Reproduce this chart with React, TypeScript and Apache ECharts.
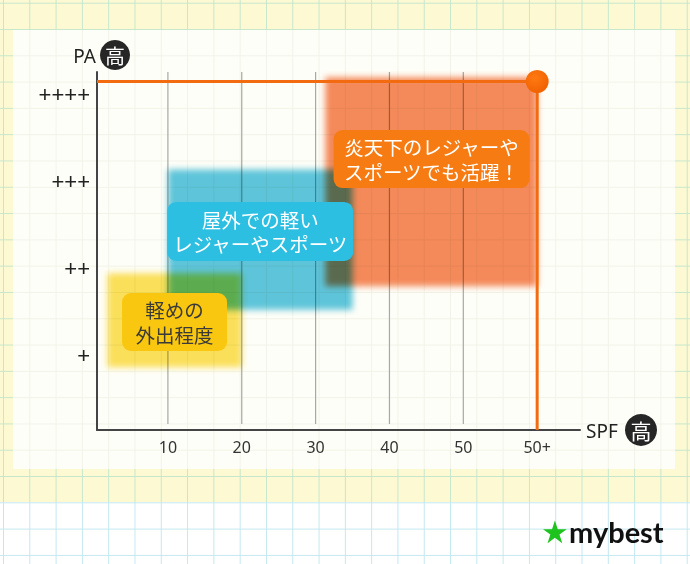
import React, { useEffect, useRef } from "react";
import * as echarts from "echarts";

// ---- data ----
const yLevels = [1, 2, 3, 4];
const yLabels = ["+", "++", "+++", "++++"];
const xTicks = [10, 20, 30, 40, 50, 60];
const xLabels = ["10", "20", "30", "40", "50", "50+"];
const gridX = [10, 20, 30, 40, 50];
const zoneSpf = [
  [1.8, 20],
  [10, 35],
  [31.3, 60],
];
const zonePa = [
  [0.87, 1.95],
  [1.53, 3.14],
  [1.8, 4.2],
];
const labelLines = [
  ["軽めの", "外出程度"],
  ["屋外での軽い", "レジャーやスポーツ"],
  ["炎天下のレジャーや", "スポーツでも活躍！"],
];
const labelAt = [
  [10.9, 1.39],
  [22.5, 2.43],
  [45.7, 3.26],
];
const peak = [60, 4.15];
const xRange = [0.4, 65.8];
const yRange = [0.15, 4.26];

// ---- styles ----
const zoneColors = ["#fbe05c", "#5ec5e0", "#f58a5c"];
const labelBg = ["#f9c70f", "#2dbfe2", "#f57b12"];
const labelFg = ["#3a3a3a", "#ffffff", "#ffffff"];
const labelBox = [
  [105, 58],
  [186, 59],
  [196, 58],
];
const ORANGE = "#f26b10";
const JP = "'Noto Sans CJK JP', 'Noto Sans', sans-serif";
const LAT = "'Noto Sans', 'Liberation Sans', sans-serif";

const hexToRgb = (h: string) => {
  const n = parseInt(h.slice(1), 16);
  return `rgb(${(n >> 16) & 255}, ${(n >> 8) & 255}, ${n & 255})`;
};
const blendCss =
  zoneColors
    .flatMap((c) => [`#chartbox path[fill="${c}"]`, `#chartbox path[fill="${hexToRgb(c)}"]`])
    .join(",") + "{mix-blend-mode:multiply;filter:blur(3px);}";

const gridBg = (bg: string, line: string, ox: number, oy: number) => ({
  backgroundColor: bg,
  backgroundImage: `linear-gradient(to right, ${line} 1.3px, transparent 1.3px), linear-gradient(to bottom, ${line} 1.3px, transparent 1.3px)`,
  backgroundSize: "26.3px 26.3px",
  backgroundPosition: `${ox}px ${oy}px`,
});

export default function App() {
  const ref = useRef<HTMLDivElement>(null);
  useEffect(() => {
    const chart = echarts.init(ref.current!, null, { renderer: "svg", width: 690, height: 564 });
    const option: any = {
      animation: false,
      backgroundColor: "transparent",
      grid: { left: 97, right: 110, top: 72, bottom: 134, containLabel: false },
      xAxis: {
        type: "value",
        min: xRange[0],
        max: xRange[1],
        axisLine: { show: true, lineStyle: { color: "#444", width: 2 } },
        axisTick: { show: false },
        splitLine: { show: false },
        axisLabel: {
          customValues: xTicks,
          formatter: (v: number) => {
            const i = xTicks.indexOf(Math.round(v));
            return i >= 0 ? xLabels[i] : "";
          },
          color: "#333",
          fontSize: 16,
          fontFamily: LAT,
          margin: 9,
        },
      },
      yAxis: {
        type: "value",
        min: yRange[0],
        max: yRange[1],
        axisLine: { show: true, lineStyle: { color: "#444", width: 2 } },
        axisTick: { show: false },
        splitLine: { show: false },
        axisLabel: {
          customValues: yLevels,
          formatter: (v: number) => {
            const i = yLevels.indexOf(Math.round(v));
            return i >= 0 ? yLabels[i] : "";
          },
          color: "#222",
          fontSize: 22,
          fontFamily: "'Liberation Sans', sans-serif",
          margin: 7,
        },
      },
      series: [
        {
          type: "custom",
          z: 1,
          silent: true,
          data: gridX.map((v) => [v, yRange[0]]),
          renderItem: (params: any, api: any) => {
            const cs = params.coordSys;
            const p = api.coord([api.value(0), api.value(1)]);
            return {
              type: "line",
              shape: { x1: p[0], y1: cs.y, x2: p[0], y2: cs.y + cs.height - 6 },
              style: { stroke: "#a8a8a4", lineWidth: 1.2 },
            };
          },
        },
        {
          type: "custom",
          z: 2,
          silent: true,
          data: zoneSpf.map((s, i) => [s[0], s[1], zonePa[i][0], zonePa[i][1]]),
          renderItem: (params: any, api: any) => {
            const a = api.coord([api.value(0), api.value(3)]);
            const b = api.coord([api.value(1), api.value(2)]);
            return {
              type: "rect",
              shape: { x: a[0], y: a[1], width: b[0] - a[0], height: b[1] - a[1] },
              style: { fill: zoneColors[params.dataIndex] },
            };
          },
        },
        {
          type: "line",
          z: 3,
          silent: true,
          symbol: "none",
          data: [
            [xRange[0], peak[1]],
            [peak[0], peak[1]],
            [peak[0], yRange[0]],
          ],
          lineStyle: { color: ORANGE, width: 3 },
        },
        {
          type: "scatter",
          z: 4,
          silent: true,
          symbolSize: 23,
          data: [peak],
          itemStyle: {
            opacity: 1,
            color: {
              type: "radial",
              x: 0.4,
              y: 0.35,
              r: 0.7,
              colorStops: [
                { offset: 0, color: "#ff7a12" },
                { offset: 1, color: "#f06000" },
              ],
            },
          },
        },
        {
          type: "custom",
          z: 5,
          silent: true,
          data: labelAt,
          renderItem: (params: any, api: any) => {
            const i = params.dataIndex;
            const p = api.coord([api.value(0), api.value(1)]);
            const w = labelBox[i][0];
            const h = labelBox[i][1];
            const lines = labelLines[i];
            return {
              type: "group",
              children: [
                {
                  type: "rect",
                  shape: { x: p[0] - w / 2, y: p[1] - h / 2, width: w, height: h, r: 9 },
                  style: { fill: labelBg[i] },
                },
                ...lines.map((t, k) => ({
                  type: "text",
                  x: p[0],
                  y: p[1] + (k - (lines.length - 1) / 2) * 24.5,
                  style: {
                    text: t,
                    fill: labelFg[i],
                    fontSize: 19.5,
                    fontFamily: JP,
                    align: "center",
                    verticalAlign: "middle",
                  },
                })),
              ],
            };
          },
        },
      ],
      graphic: [
        {
          type: "text",
          x: 96,
          y: 56,
          style: { text: "PA", fontSize: 19, fontFamily: LAT, fill: "#222", align: "right", verticalAlign: "middle" },
        },
        { type: "circle", shape: { cx: 115, cy: 55, r: 15 }, style: { fill: "#262626" } },
        {
          type: "text",
          x: 115,
          y: 55,
          style: { text: "高", fontSize: 20, fontFamily: JP, fill: "#fff", align: "center", verticalAlign: "middle" },
        },
        {
          type: "text",
          x: 586,
          y: 431,
          style: { text: "SPF", fontSize: 19, fontFamily: LAT, fill: "#222", align: "left", verticalAlign: "middle" },
        },
        { type: "circle", shape: { cx: 641, cy: 430, r: 16 }, style: { fill: "#262626" } },
        {
          type: "text",
          x: 641,
          y: 430,
          style: { text: "高", fontSize: 21, fontFamily: JP, fill: "#fff", align: "center", verticalAlign: "middle" },
        },
        {
          type: "text",
          x: 555,
          y: 532,
          style: { text: "★", fontSize: 31, fontFamily: "'DejaVu Sans'", fill: "#1ec31e", align: "center", verticalAlign: "middle" },
        },
        {
          type: "text",
          x: 569,
          y: 531,
          style: { text: "mybest", fontSize: 29, fontWeight: "bold", fontFamily: "Lato, 'Noto Sans', sans-serif", fill: "#111", align: "left", verticalAlign: "middle" },
        },
      ],
    };
    chart.setOption(option);
    return () => chart.dispose();
  }, []);

  return (
    <div
      style={{
        position: "absolute",
        left: 0,
        top: 0,
        width: 690,
        height: 564,
        overflow: "hidden",
        ...gridBg("#ffffff", "#c3e8ef", 3, 2.7),
      }}
    >
      <style>{blendCss}</style>
      <div style={{ position: "absolute", left: 0, top: 0, width: 690, height: 502, ...gridBg("#fdfad3", "#c6e6cc", 3, 2.7) }} />
      <div style={{ position: "absolute", left: 13, top: 30, width: 662, height: 439, ...gridBg("#fefef8", "#f1f3e8", -10, -27.3) }} />
      <div id="chartbox" ref={ref} style={{ position: "absolute", left: 0, top: 0, width: 690, height: 564 }} />
    </div>
  );
}
